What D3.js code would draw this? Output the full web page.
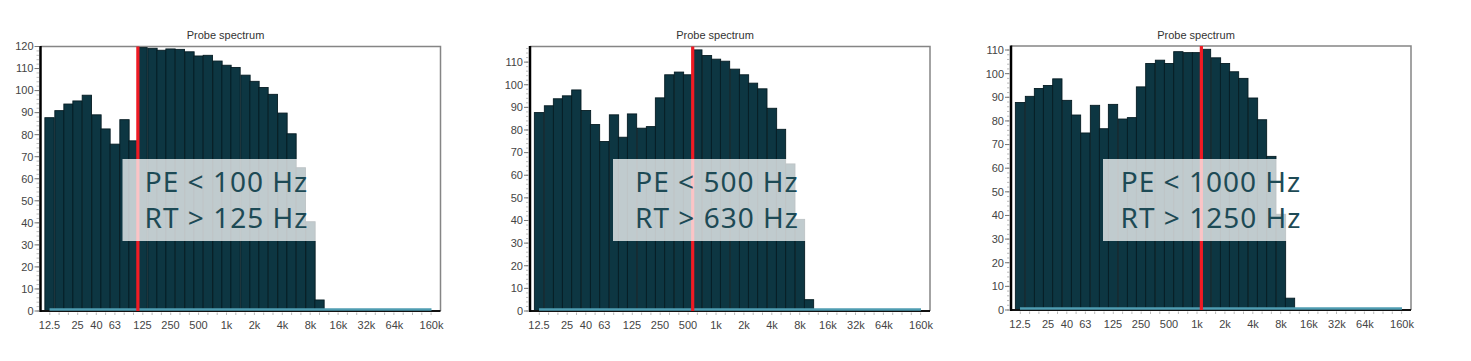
<!DOCTYPE html>
<html>
<head>
<meta charset="utf-8">
<script src="https://cdnjs.cloudflare.com/ajax/libs/d3/7.8.5/d3.min.js"></script>
<style>
  html, body { margin: 0; padding: 0; background: #fff; }
  .tick-label { font-family: "Liberation Sans", Arial, sans-serif; font-size: 11px; fill: #444; }
  .title { font-family: "Liberation Sans", Arial, sans-serif; font-size: 11px; fill: #333; }
  .note { font-family: "Noto Sans", "Open Sans", sans-serif; font-size: 28px; fill: #1d4a55; letter-spacing: 1px; }
</style>
</head>
<body>
<svg id="chart" width="1471" height="361"></svg>
<script>
// 1/3-octave band centre frequencies (Hz)
const bandFreqs = [12.5, 16, 20, 25, 31.5, 40, 50, 63, 80, 100,
  125, 160, 200, 250, 315, 400, 500, 630, 800, 1000,
  1250, 1600, 2000, 2500, 3150, 4000, 5000, 6300, 8000, 10000];

// probe spectrum levels per band, one array per crossover setting
const specPE100 = [87.7, 90.9, 93.9, 95.3, 97.9, 89, 82.6, 75.7, 86.8, 77.2,
  119.5, 119.2, 118.3, 118.9, 118.7, 117.6, 115.7, 116, 113.4, 111.5,
  110.5, 107, 104.2, 101.4, 98.3, 89.8, 80.4, 65, 40.5, 5];
const specPE500 = [87.7, 90.7, 93.8, 95.1, 97.7, 88.6, 82.4, 74.9, 86.7, 76.8,
  87.1, 80.8, 81.5, 94.2, 104.4, 105.6, 104.4, 115.4, 112.9, 111.3,
  110.4, 106.9, 104.4, 100.7, 98.2, 89.6, 80.3, 65, 40.5, 5];
const specPE1000 = [87.8, 90.4, 93.7, 95, 97.8, 88.7, 82.5, 74.9, 86.6, 76.7,
  87, 80.8, 81.4, 94.4, 104.3, 105.7, 104.3, 109.3, 108.9, 108.9,
  110.3, 106.7, 104.3, 100.8, 98, 89.7, 80.5, 65, 40.5, 5];

// noise floor line (second series), spans the whole band range
const floorFreqs = [12.5, 160000];
const floorValues = [0.4, 0.4];

const xTickFreqs = [12.5, 25, 40, 63, 125, 250, 500, 1000, 2000, 4000, 8000, 16000, 32000, 64000, 160000];
const xTickLabels = ["12.5", "25", "40", "63", "125", "250", "500", "1k", "2k", "4k", "8k", "16k", "32k", "64k", "160k"];

const panels = [
  { left: 40.5, top: 46.5, bottom: 311, yMax: 120, values: specPE100, cut: 10,
    lines: ["PE < 100 Hz", "RT > 125 Hz"], boxX: 82, textX: 186 },
  { left: 530, top: 46.5, bottom: 311, yMax: 116.9, values: specPE500, cut: 17,
    lines: ["PE < 500 Hz", "RT > 630 Hz"], boxX: 83, textX: 187 },
  { left: 1011, top: 46, bottom: 310, yMax: 111.7, values: specPE1000, cut: 20,
    lines: ["PE < 1000 Hz", "RT > 1250 Hz"], boxX: 92, textX: 200 }
];
const plotWidth = 400;

const svg = d3.select("#chart");
svg.append("rect").attr("width", 1471).attr("height", 361).attr("fill", "#fff");

const halfBand = Math.pow(10, 0.05);

panels.forEach(p => {
  const g = svg.append("g");

  const x = d3.scaleLog()
    .domain([10, 200000])
    .range([p.left, p.left + plotWidth]);

  const y = d3.scaleLinear()
    .domain([0, p.yMax])
    .range([p.bottom, p.top]);

  // title
  g.append("text")
    .attr("class", "title")
    .attr("x", p.left + 185)
    .attr("y", 38.5)
    .attr("text-anchor", "middle")
    .text("Probe spectrum");

  // frame (top + right)
  g.append("path")
    .attr("d", `M${p.left},${p.top}H${p.left + plotWidth}V${p.bottom}`)
    .attr("fill", "none")
    .attr("stroke", "#858585")
    .attr("stroke-width", 1.5);

  // bars
  g.selectAll("rect.bar")
    .data(p.values)
    .enter().append("rect")
    .attr("class", "bar")
    .attr("x", (d, i) => x(bandFreqs[i] / halfBand))
    .attr("width", (d, i) => x(bandFreqs[i] * halfBand) - x(bandFreqs[i] / halfBand))
    .attr("y", d => y(d))
    .attr("height", d => y(0) - y(d))
    .attr("fill", "#0d3642")
    .attr("stroke", "#061c23")
    .attr("stroke-width", 0.9);

  // bottom axis line
  g.append("line")
    .attr("x1", p.left).attr("x2", p.left + plotWidth)
    .attr("y1", p.bottom).attr("y2", p.bottom)
    .attr("stroke", "#111").attr("stroke-width", 2);

  // floor line
  const floorLine = d3.line()
    .x(d => x(d[0]))
    .y(d => y(d[1]) - 0.5);
  g.append("path")
    .datum(floorFreqs.map((f, i) => [f, floorValues[i]]))
    .attr("d", floorLine)
    .attr("fill", "none")
    .attr("stroke", "#4f9db2")
    .attr("stroke-width", 2.5);

  // left axis line
  g.append("line")
    .attr("x1", p.left).attr("x2", p.left)
    .attr("y1", p.top - 0.5).attr("y2", p.bottom + 1)
    .attr("stroke", "#000").attr("stroke-width", 2.5);

  // y ticks
  const yMinor = d3.range(0, p.yMax, 2);
  g.selectAll("line.yminor")
    .data(yMinor)
    .enter().append("line")
    .attr("x1", p.left - 4).attr("x2", p.left - 1.5)
    .attr("y1", d => y(d)).attr("y2", d => y(d))
    .attr("stroke", "#aaa").attr("stroke-width", 0.8);

  const yMajor = d3.range(0, p.yMax + 0.01, 10);
  g.selectAll("line.ymajor")
    .data(yMajor)
    .enter().append("line")
    .attr("x1", p.left - 6).attr("x2", p.left - 1.5)
    .attr("y1", d => y(d)).attr("y2", d => y(d))
    .attr("stroke", "#777").attr("stroke-width", 1);

  g.selectAll("text.ylab")
    .data(yMajor)
    .enter().append("text")
    .attr("class", "tick-label")
    .attr("x", p.left - 7)
    .attr("y", d => y(d))
    .attr("dy", "0.35em")
    .attr("text-anchor", "end")
    .text(d => d);

  // x ticks
  const xMinor = d3.range(11, 53).map(n => Math.pow(10, n / 10));
  g.selectAll("line.xminor")
    .data(xMinor)
    .enter().append("line")
    .attr("x1", d => x(d)).attr("x2", d => x(d))
    .attr("y1", p.bottom + 1.5).attr("y2", p.bottom + 4)
    .attr("stroke", "#aaa").attr("stroke-width", 0.8);

  g.selectAll("text.xlab")
    .data(xTickFreqs)
    .enter().append("text")
    .attr("class", "tick-label")
    .attr("x", d => x(d))
    .attr("y", p.bottom + 18)
    .attr("text-anchor", "middle")
    .text((d, i) => xTickLabels[i]);

  // crossover marker at lower edge of first RT band
  const xc = x(bandFreqs[p.cut] / halfBand);
  g.append("line")
    .attr("x1", xc).attr("x2", xc)
    .attr("y1", p.top).attr("y2", p.bottom)
    .attr("stroke", "#ee1b24").attr("stroke-width", 3.2);

  // annotation box
  g.append("rect")
    .attr("x", p.left + p.boxX)
    .attr("y", 159)
    .attr("width", 208)
    .attr("height", 82)
    .attr("fill", "#fff")
    .attr("fill-opacity", 0.74);

  g.selectAll("text.note")
    .data(p.lines)
    .enter().append("text")
    .attr("class", "note")
    .attr("x", p.left + p.textX)
    .attr("y", (d, i) => 191.5 + i * 36)
    .attr("text-anchor", "middle")
    .text(d => d);
});
</script>
</body>
</html>
